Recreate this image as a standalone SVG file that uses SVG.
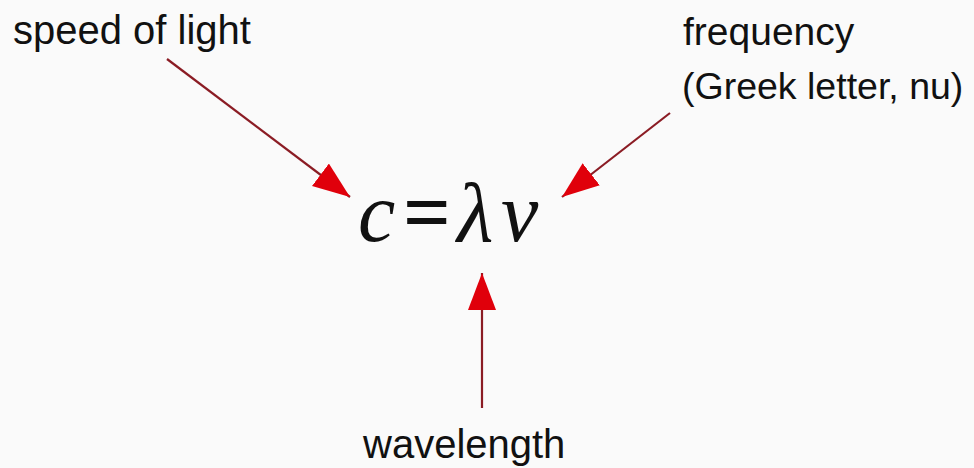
<svg xmlns="http://www.w3.org/2000/svg" width="974" height="468" viewBox="0 0 974 468">
<style>
.lbl{font-family:"Liberation Sans",Arial,sans-serif;font-size:40px;fill:#111}
.eq{font-family:"Liberation Serif","Times New Roman",serif;font-size:84px;fill:#111;font-style:italic}
.conn{stroke:#8b1c24;stroke-width:2.2;fill:none}
</style>
<defs>
<marker id="ah" markerUnits="userSpaceOnUse" markerWidth="40" markerHeight="30" refX="37" refY="14" orient="auto">
<path d="M0,0 L37,14 L0,28 z" fill="#e0000b"/>
</marker>
</defs>
<rect width="974" height="468" fill="#fafafa"/>
<g id="equation">
<text class="eq" y="241"><tspan x="358">c</tspan><tspan x="403" style="font-style:normal;font-weight:bold">=</tspan><tspan x="457">λ</tspan><tspan x="501">ν</tspan></text>
</g>
<g id="speed">
<text class="lbl" x="13" y="44">speed of light</text>
</g>
<g id="frequency">
<text class="lbl" x="683" y="45" style="font-size:39px">frequency</text>
<text class="lbl" x="682" y="99" style="font-size:37.5px">(Greek letter, nu)</text>
</g>
<g id="wavelength">
<text class="lbl" x="363" y="458">wavelength</text>
</g>
<g id="connectors">
<line class="conn" x1="167" y1="59" x2="350" y2="197" marker-end="url(#ah)"/>
<line class="conn" x1="670" y1="113" x2="562" y2="197" marker-end="url(#ah)"/>
<line class="conn" x1="482" y1="408" x2="482" y2="273" marker-end="url(#ah)"/>
</g>
</svg>
